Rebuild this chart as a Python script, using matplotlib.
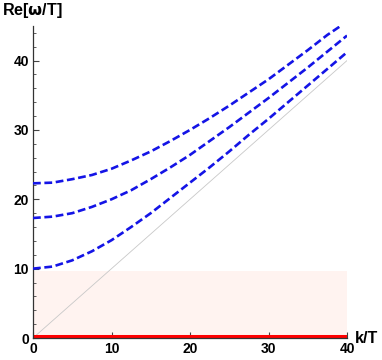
import matplotlib.pyplot as plt

# k/T values where the curves were read
k = [0, 2.5, 5, 7.5, 10, 12.5, 15, 17.5, 20, 22.5, 25, 27.5, 30, 32.5, 35, 37.5, 40]
k_top = [0, 2.5, 5, 7.5, 10, 12.5, 15, 17.5, 20, 22.5, 25, 27.5, 30, 32.5, 35, 37.5, 39.2]

# Re[w/T] for the three dashed branches
branch_low = [10.0, 10.3, 11.2, 12.5, 14.1, 16.0, 18.0, 20.2, 22.4, 24.6, 26.9, 29.3, 31.6, 34.0, 36.4, 38.8, 41.2]
branch_mid = [17.3, 17.5, 18.0, 18.9, 20.0, 21.3, 22.9, 24.6, 26.4, 28.4, 30.4, 32.5, 34.6, 36.8, 39.0, 41.3, 43.6]
branch_top = [22.3, 22.4, 22.9, 23.5, 24.4, 25.6, 26.9, 28.4, 30.0, 31.7, 33.5, 35.4, 37.3, 39.4, 41.5, 43.7, 45.0]

# light cone w = k, and the shaded band
cone_k = [0, 40]
cone_w = [0, 40]
band_top = 9.65
x_max = 40
y_max = 45

plt.rcParams['font.family'] = ['Liberation Sans', 'DejaVu Sans']
plt.rcParams['font.weight'] = 'bold'
plt.rcParams['lines.scale_dashes'] = False

fig = plt.figure(figsize=(3.82, 3.6), dpi=100)
ax = fig.add_axes([0.0864, 0.0611, 0.8220, 0.8670])

ax.fill_between([0, x_max], 0, band_top, color='#fff3f0', lw=0, zorder=0)
ax.plot(cone_k, cone_w, color='#c8c8c8', lw=0.6, zorder=1)

for w, kk in [(branch_low, k), (branch_mid, k), (branch_top, k_top)]:
    line, = ax.plot(kk, w, color='#1414e6', lw=1.9, zorder=3)
    line.set_dashes([5.6, 2.6])

ax.plot([0, x_max], [0.15, 0.15], color='#ff0000', lw=2.9, zorder=2, solid_capstyle='butt')

ax.set_xlim(0, x_max)
ax.set_ylim(0, y_max)
ax.set_xticks([0, 10, 20, 30, 40])
ax.set_yticks([0, 10, 20, 30, 40])
ax.set_xticks([v for v in range(0, 41, 2) if v % 10], minor=True)
ax.set_yticks([v for v in range(0, 45, 2) if v % 10], minor=True)
ax.tick_params(which='major', direction='in', length=4, width=0.8, color='#444444',
               labelsize=10, pad=3)
ax.tick_params(which='minor', direction='in', length=2.2, width=0.6, color='#444444')
for lab in ax.get_xticklabels() + ax.get_yticklabels():
    lab.set_fontweight('bold')

for s in ['top', 'right']:
    ax.spines[s].set_visible(False)
for s in ['left', 'bottom']:
    ax.spines[s].set_color('#333333')
    ax.spines[s].set_linewidth(0.9)

fig.text(0.005, 0.972, 'Re[$\\mathbf{\\omega}$/T]', fontsize=11.6, fontweight='bold',
         va='center', ha='left')
fig.text(0.928, 0.061, 'k/T', fontsize=11.6, fontweight='bold', va='center', ha='left')

fig.savefig('out.png', dpi=100)
